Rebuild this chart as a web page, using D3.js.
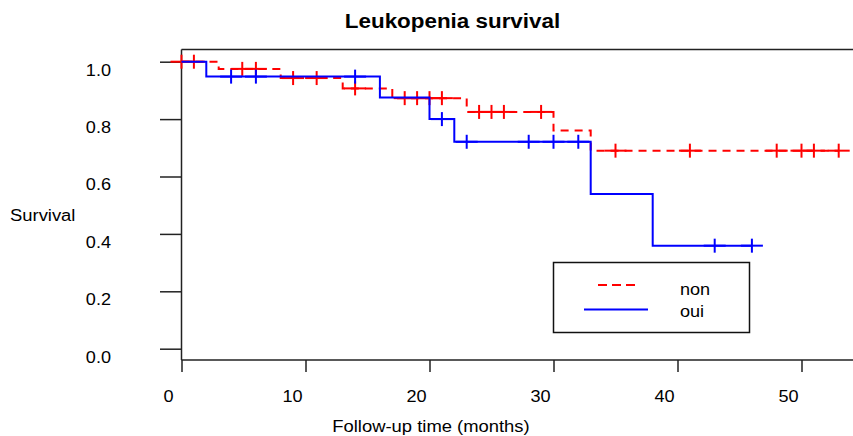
<!DOCTYPE html>
<html>
<head>
<meta charset="utf-8">
<script src="https://cdn.jsdelivr.net/npm/d3@7"></script>
<style>
  html, body { margin: 0; padding: 0; background: #fff; }
  svg { display: block; font-family: "Liberation Sans", Arial, sans-serif; }
</style>
</head>
<body>
<svg id="chart" width="853" height="436"></svg>
<script>
(function () {
// ---- Data ----
const groups = ["non", "oui"];
// group "non"
const nonStepTimes = [3, 8, 13, 17, 23, 30, 33];
const nonSurv      = [0.975, 0.943, 0.907, 0.873, 0.825, 0.760, 0.690];
const nonCensor    = [0, 1, 4.9, 6, 9, 10.9, 14, 18, 19, 20, 21, 24, 25, 26, 29, 35, 41, 48, 50, 51, 53];
// group "oui"
const ouiStepTimes = [2, 16, 20, 22, 33, 38];
const ouiSurv      = [0.948, 0.875, 0.800, 0.721, 0.539, 0.359];
const ouiCensor    = [4, 6, 14, 21, 23, 28, 30, 32, 43, 46];

const xTicks = [0, 10, 20, 30, 40, 50];
const yTicks = [0.0, 0.2, 0.4, 0.6, 0.8, 1.0];
const titleText = "Leukopenia survival";
const xTitle = "Follow-up time (months)";
const yTitle = "Survival";

// ---- Layout ----
const svg = d3.select("#chart");
const pLeft = 181.5, pTop = 49.5, pBottom = 360, pRight = 853;
const x = d3.scaleLinear().domain([0, 54]).range([pLeft, pLeft + 54 * 12.4]);
const y = d3.scaleLinear().domain([0, 1]).range([348.7, 61.7]);

function stretch(sel, k) {
  sel.each(function () {
    const w = this.getComputedTextLength();
    d3.select(this).attr("textLength", w * k).attr("lengthAdjust", "spacingAndGlyphs");
  });
}

// Title
svg.append("text").attr("x", 452.5).attr("y", 28).attr("text-anchor", "middle")
  .attr("font-size", 20).attr("font-weight", "bold").attr("fill", "#000")
  .text(titleText).call(stretch, 1.12);

// Frame lines (top, left, bottom)
const frame = svg.append("g").attr("stroke", "#222").attr("stroke-width", 1.5).attr("fill", "none");
frame.append("line").attr("x1", pLeft).attr("x2", pRight).attr("y1", pTop).attr("y2", pTop);
frame.append("line").attr("x1", pLeft).attr("x2", pLeft).attr("y1", pTop).attr("y2", pBottom);
frame.append("line").attr("x1", pLeft).attr("x2", pRight).attr("y1", pBottom).attr("y2", pBottom);

// X axis
const xAxis = d3.axisBottom(x).tickValues(xTicks).tickSize(12).tickSizeOuter(0).tickPadding(28)
  .tickFormat(d3.format("d"));
const gx = svg.append("g").attr("transform", `translate(0,${pBottom})`).call(xAxis);
gx.select(".domain").remove();
gx.selectAll(".tick line").attr("stroke", "#222").attr("stroke-width", 1.5);
gx.selectAll(".tick text").attr("font-size", 16).attr("font-family", "Liberation Sans, Arial, sans-serif")
  .attr("fill", "#000").attr("dx", -13.5).attr("dy", 0).attr("y", 42).call(stretch, 1.13);

// Y axis
const yAxis = d3.axisLeft(y).tickValues(yTicks).tickSize(21.5).tickSizeOuter(0).tickPadding(49)
  .tickFormat(d3.format(".1f"));
const gy = svg.append("g").attr("transform", `translate(${pLeft},0)`).call(yAxis);
gy.select(".domain").remove();
gy.selectAll(".tick line").attr("stroke", "#222").attr("stroke-width", 1.5);
gy.selectAll(".tick text").attr("font-size", 16).attr("font-family", "Liberation Sans, Arial, sans-serif")
  .attr("fill", "#000").attr("dy", 0).attr("y", 13.3).call(stretch, 1.13);

// Axis titles
svg.append("text").attr("x", 431).attr("y", 432).attr("text-anchor", "middle")
  .attr("font-size", 16).attr("fill", "#000").text(xTitle).call(stretch, 1.15);
svg.append("text").attr("x", 10).attr("y", 221).attr("text-anchor", "start")
  .attr("font-size", 16).attr("fill", "#000").text(yTitle).call(stretch, 1.15);

// ---- Kaplan-Meier curves ----
function kmPoints(stepTimes, surv, censor) {
  const end = d3.max(censor.concat(stepTimes));
  const pts = [[0, 1]];
  stepTimes.forEach((t, i) => pts.push([t, surv[i]]));
  pts.push([end, surv[surv.length - 1]]);
  return pts;
}
function survAt(stepTimes, surv, t) {
  let s = 1;
  stepTimes.forEach((st, i) => { if (st <= t) s = surv[i]; });
  return s;
}
const line = d3.line().x(d => x(d[0])).y(d => y(d[1])).curve(d3.curveStepAfter);

const series = [
  { name: "non", steps: nonStepTimes, surv: nonSurv, censor: nonCensor, color: "#ff0000", dash: "8,6" },
  { name: "oui", steps: ouiStepTimes, surv: ouiSurv, censor: ouiCensor, color: "#0000ff", dash: null }
];

const plot = svg.append("g");
series.forEach(s => {
  const g = plot.append("g");
  g.append("path").datum(kmPoints(s.steps, s.surv, s.censor))
    .attr("d", line).attr("fill", "none").attr("stroke", s.color).attr("stroke-width", 2)
    .attr("stroke-dasharray", s.dash);
  const marks = g.selectAll(".cm").data(s.censor).enter().append("g")
    .attr("transform", d => `translate(${x(d)},${y(survAt(s.steps, s.surv, d))})`);
  marks.append("line").attr("x1", -11).attr("x2", 11).attr("y1", 0).attr("y2", 0)
    .attr("stroke", s.color).attr("stroke-width", 2);
  marks.append("line").attr("x1", 0).attr("x2", 0).attr("y1", -7).attr("y2", 7)
    .attr("stroke", s.color).attr("stroke-width", 2);
});

// ---- Legend ----
const lg = svg.append("g");
lg.append("rect").attr("x", 553.5).attr("y", 262.5).attr("width", 196).attr("height", 70)
  .attr("fill", "#fff").attr("stroke", "#111").attr("stroke-width", 1.5);
const legendRows = [
  { label: groups[0], color: "#ff0000", dash: "9,5", x1: 598, x2: 637, ly: 285, ty: 295 },
  { label: groups[1], color: "#0000ff", dash: null, x1: 584, x2: 648, ly: 309.5, ty: 317 }
];
legendRows.forEach(r => {
  lg.append("line").attr("x1", r.x1).attr("x2", r.x2).attr("y1", r.ly).attr("y2", r.ly)
    .attr("stroke", r.color).attr("stroke-width", 2).attr("stroke-dasharray", r.dash);
  lg.append("text").attr("x", 680).attr("y", r.ty).attr("font-size", 16).attr("fill", "#000")
    .text(r.label).call(stretch, 1.13);
});
})();
</script>
</body>
</html>
